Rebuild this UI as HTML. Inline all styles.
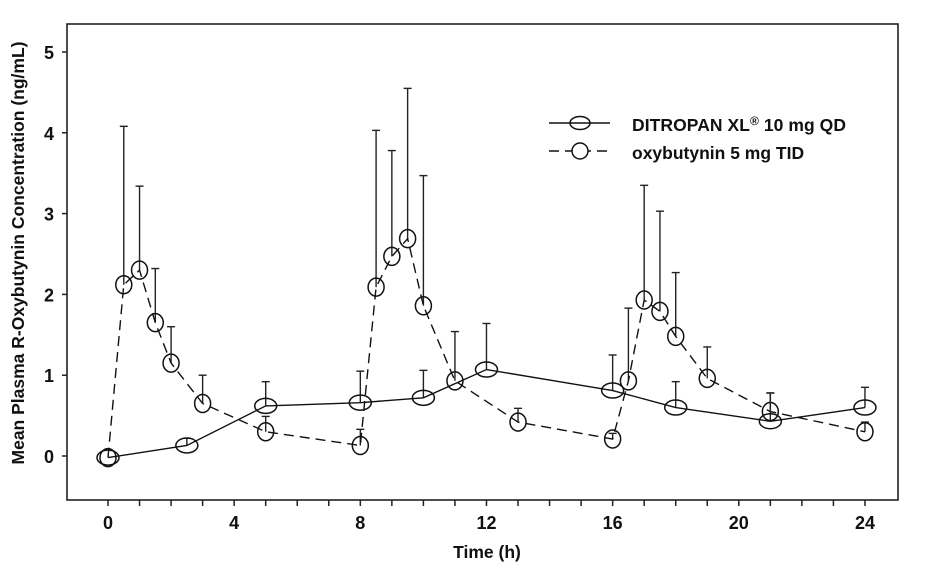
<!DOCTYPE html>
<html><head><meta charset="utf-8"><style>
body{margin:0;background:#fff}
svg{display:block}
text{font-family:"Liberation Sans",sans-serif;font-weight:bold;fill:#111}
</style></head><body>
<svg id="chart" width="938" height="585">
<rect x="0" y="0" width="938" height="585" fill="#fff"/>
<g id="axes"></g><g id="series"></g>
<g>
 <line x1="549" y1="123" x2="610" y2="123" stroke="#111" stroke-width="1.5"/>
 <ellipse cx="580" cy="123" rx="10" ry="6.5" fill="none" stroke="#111" stroke-width="1.5"/>
 <text x="632" y="131" font-size="17.5" textLength="214">DITROPAN XL<tspan font-size="12" dy="-6">®</tspan><tspan dy="6"> 10 mg QD</tspan></text>
 <line x1="549" y1="151" x2="610" y2="151" stroke="#111" stroke-width="1.5" stroke-dasharray="10,6"/>
 <circle cx="580" cy="151" r="8" fill="#fff" stroke="#111" stroke-width="1.5"/>
 <text x="632" y="159" font-size="17.5">oxybutynin 5 mg TID</text>
</g>
<text x="487" y="558" font-size="17.5" text-anchor="middle">Time (h)</text>
<text transform="translate(24,253) rotate(-90)" font-size="17.5" text-anchor="middle">Mean Plasma R-Oxybutynin Concentration (ng/mL)</text>
</svg>
<script>
const xTicks=[0,4,8,12,16,20,24];
const yTicks=[0,1,2,3,4,5];
const qdTime=[0,2.5,5,8,10,12,16,18,21,24];
const qdMean=[-0.02,0.13,0.62,0.66,0.72,1.07,0.81,0.60,0.43,0.60];
const qdUpper=[null,0.22,0.92,1.05,1.06,1.64,1.25,0.92,0.78,0.85];
const tidTime=[0,0.5,1,1.5,2,3,5,8,8.5,9,9.5,10,11,13,16,16.5,17,17.5,18,19,21,24];
const tidMean=[-0.02,2.12,2.30,1.65,1.15,0.65,0.30,0.13,2.09,2.47,2.69,1.86,0.93,0.42,0.21,0.93,1.93,1.79,1.48,0.96,0.55,0.30];
const tidUpper=[null,4.08,3.34,2.32,1.60,1.00,0.49,0.33,4.03,3.78,4.55,3.47,1.54,0.59,0.28,1.83,3.35,3.03,2.27,1.35,0.78,0.42];

const NS="http://www.w3.org/2000/svg";
const X=t=>108+t*31.54, Y=v=>456-v*80.8;
function mk(tag,attrs,parent){const e=document.createElementNS(NS,tag);for(const k in attrs)e.setAttribute(k,attrs[k]);parent.appendChild(e);return e;}
const ax=document.getElementById('axes'), sg=document.getElementById('series');
const frame=mk('rect',{x:67,y:24,width:831,height:476,fill:'none',stroke:'#222','stroke-width':1.6},ax);


for(let h=0;h<=24;h++){
  const tk=mk('line',{x1:X(h),x2:X(h),y1:500,y2:506,stroke:'#222','stroke-width':1.5},ax);
  
  
}
xTicks.forEach(t=>{
  const tx=mk('text',{x:X(t),y:529,'font-size':18,'text-anchor':'middle'},ax);tx.textContent=t;
  
  
});
yTicks.forEach(v=>{
  const tk=mk('line',{x1:62,x2:67,y1:Y(v),y2:Y(v),stroke:'#222','stroke-width':1.5},ax);
  
  
  const tx=mk('text',{x:54,y:Y(v)+7,'font-size':18,'text-anchor':'end'},ax);tx.textContent=v;
  
  
});
function drawSeries(times,means,uppers,dash,name,ellipse){
  uppers.forEach((u,i)=>{ if(u==null)return;
    const g=mk('g',{stroke:'#222','stroke-width':1.4},sg);
    
    
    mk('line',{x1:X(times[i]),x2:X(times[i]),y1:Y(means[i]),y2:Y(u)},g);
    mk('line',{x1:X(times[i])-4,x2:X(times[i])+4,y1:Y(u),y2:Y(u)},g);
  });
  const pl=mk('polyline',{points:times.map((t,i)=>X(t)+','+Y(means[i])).join(' '),fill:'none',stroke:'#111','stroke-width':1.4,'stroke-dasharray':dash},sg);
  
  
  times.forEach((t,i)=>{
    const m=ellipse?mk('ellipse',{cx:X(t),cy:Y(means[i]),rx:11,ry:7.5,fill:'none',stroke:'#111','stroke-width':1.5},sg)
                   :mk('ellipse',{cx:X(t),cy:Y(means[i]),rx:8,ry:9,fill:'none',stroke:'#111','stroke-width':1.5},sg);
    
    
  });
}
drawSeries(tidTime,tidMean,tidUpper,'10,6','tid',false);
drawSeries(qdTime,qdMean,qdUpper,'none','qd',true);
</script>
</body></html>
